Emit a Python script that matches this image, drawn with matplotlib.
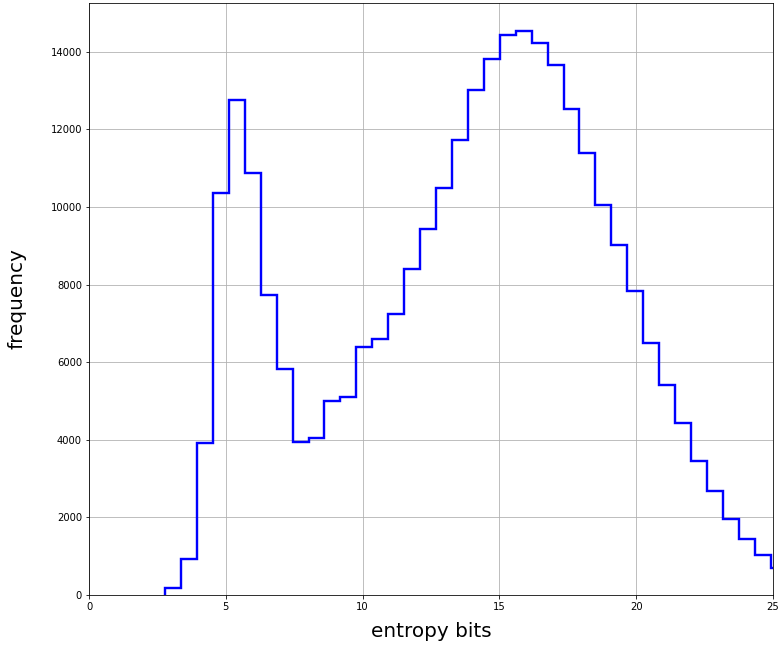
import numpy as np
import matplotlib.pyplot as plt

# histogram of entropy bits: bin edges and counts per bin
bin_start = 2.78
bin_width = 0.5825
counts = [190, 930, 3920, 10350, 12750, 10880, 7720, 5830, 3930, 4040,
          4990, 5090, 6390, 6600, 7250, 8390, 9440, 10500, 11720, 13020,
          13820, 14440, 14530, 14230, 13650, 12530, 11400, 10040, 9030, 7830,
          6490, 5410, 4440, 3450, 2680, 1970, 1450, 1030, 700]

edges = bin_start + bin_width * np.arange(len(counts) + 1)
centers = edges[:-1] + bin_width / 2

fig = plt.figure(figsize=(779 / 72, 647 / 72), dpi=72)
ax = fig.add_axes([0.1143, 0.0804, 0.8780, 0.9150])

ax.hist(centers, bins=edges, weights=counts, histtype='step',
        color='blue', linewidth=2.4)
ax.set_xlim(0, 25)
ax.set_xlabel('entropy bits', fontsize=20)
ax.set_ylabel('frequency', fontsize=20)
ax.xaxis.set_label_coords(0.5, -0.046)
ax.yaxis.set_label_coords(-0.091, 0.5)
ax.tick_params(labelsize=10)
ax.grid()

plt.savefig('out.png', dpi=72)
